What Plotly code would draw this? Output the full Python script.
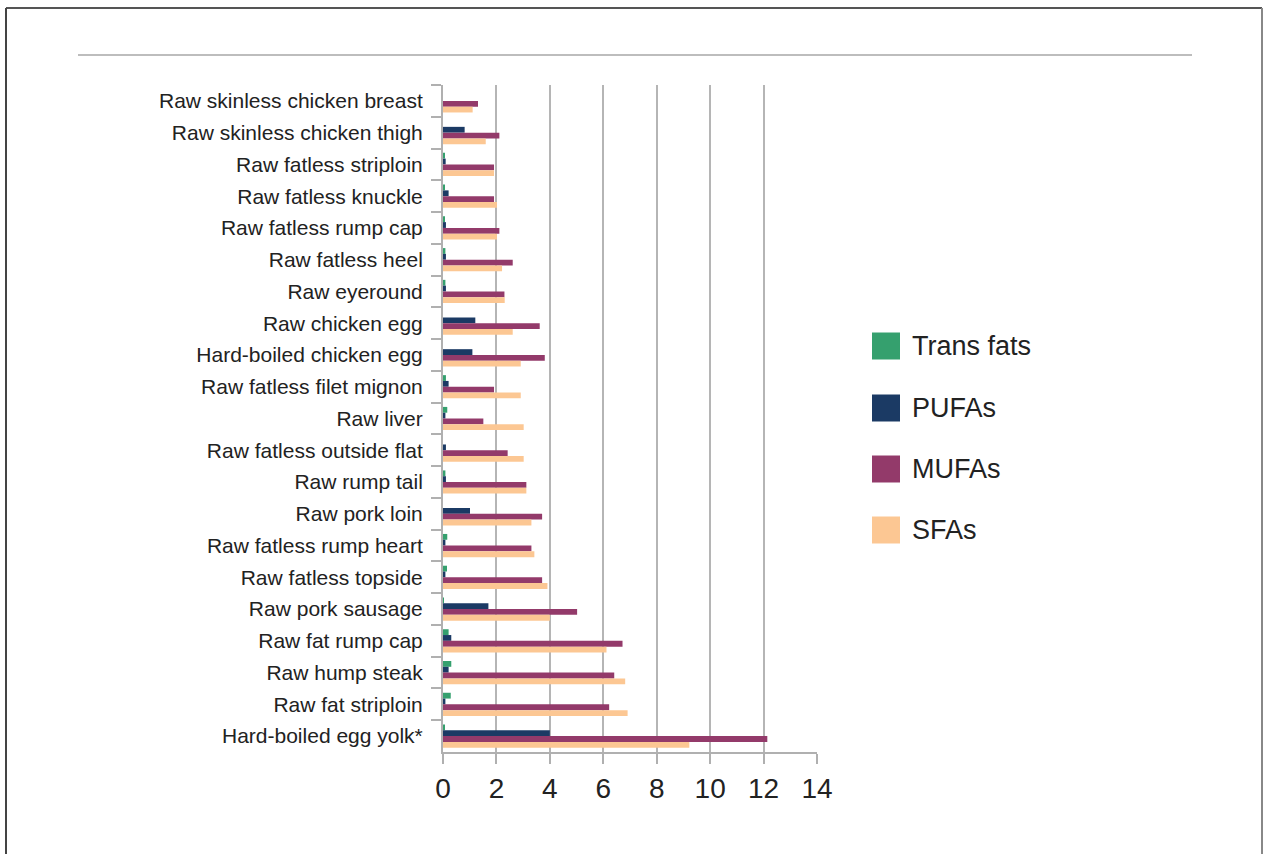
import plotly.graph_objects as go

# Fat composition per food item (g per 100 g), listed top to bottom
foods = [
    "Raw skinless chicken breast",
    "Raw skinless chicken thigh",
    "Raw fatless striploin",
    "Raw fatless knuckle",
    "Raw fatless rump cap",
    "Raw fatless heel",
    "Raw eyeround",
    "Raw chicken egg",
    "Hard-boiled chicken egg",
    "Raw fatless filet mignon",
    "Raw liver",
    "Raw fatless outside flat",
    "Raw rump tail",
    "Raw pork loin",
    "Raw fatless rump heart",
    "Raw fatless topside",
    "Raw pork sausage",
    "Raw fat rump cap",
    "Raw hump steak",
    "Raw fat striploin",
    "Hard-boiled egg yolk*",
]

trans_fats = [0.0, 0.0, 0.07, 0.07, 0.07, 0.09, 0.09, 0.0, 0.0, 0.11,
              0.16, 0.0, 0.09, 0.0, 0.16, 0.15, 0.03, 0.21, 0.31, 0.29, 0.07]
pufas = [0.0, 0.81, 0.10, 0.21, 0.11, 0.11, 0.11, 1.21, 1.10, 0.21,
         0.09, 0.11, 0.11, 1.01, 0.09, 0.09, 1.70, 0.31, 0.21, 0.09, 4.00]
mufas = [1.31, 2.11, 1.91, 1.91, 2.11, 2.61, 2.30, 3.62, 3.81, 1.91,
         1.51, 2.42, 3.12, 3.71, 3.31, 3.71, 5.02, 6.72, 6.41, 6.22, 12.14]
sfas = [1.11, 1.60, 1.91, 2.02, 2.02, 2.21, 2.31, 2.61, 2.91, 2.91,
        3.02, 3.02, 3.12, 3.31, 3.42, 3.91, 4.00, 6.12, 6.82, 6.91, 9.22]

series_names = ["Trans fats", "PUFAs", "MUFAs", "SFAs"]
series_values = [trans_fats, pufas, mufas, sfas]
series_colors = ["#35a06e", "#1b3a64", "#933a6a", "#fcc793"]

x_ticks = [0, 2, 4, 6, 8, 10, 12, 14]

W, H = 1267, 854
L, R, T, B = 443, 450, 85, 102
PW, PH = W - L - R, H - T - B


def px_x(x):
    return (x - L) / PW


def px_y(y):
    return 1 - (y - T) / PH


fig = go.Figure()
for name, vals, col in zip(series_names, series_values, series_colors):
    fig.add_trace(go.Bar(
        y=foods, x=vals, name=name, orientation="h",
        marker=dict(color=col, line=dict(width=0)),
        showlegend=False,
    ))

font_family = "Liberation Sans, Arial, sans-serif"

shapes = [
    # outer frame
    dict(type="line", xref="paper", yref="paper",
         x0=px_x(6), x1=px_x(1262), y0=px_y(8), y1=px_y(8),
         line=dict(color="#555555", width=2)),
    dict(type="line", xref="paper", yref="paper",
         x0=px_x(6), x1=px_x(6), y0=px_y(8), y1=px_y(860),
         line=dict(color="#444444", width=2)),
    dict(type="line", xref="paper", yref="paper",
         x0=px_x(1262), x1=px_x(1262), y0=px_y(8), y1=px_y(860),
         line=dict(color="#888888", width=2)),
    # rule under the header area
    dict(type="line", xref="paper", yref="paper",
         x0=px_x(78), x1=px_x(1192), y0=px_y(55), y1=px_y(55),
         line=dict(color="#bdbdbd", width=2)),
]

annotations = []
legend_y = [346, 408, 469, 530]
for name, col, ly in zip(series_names, series_colors, legend_y):
    shapes.append(dict(type="rect", xref="paper", yref="paper",
                       x0=px_x(872), x1=px_x(900),
                       y0=px_y(ly - 13.5), y1=px_y(ly + 13.5),
                       fillcolor=col, line=dict(width=0)))
    annotations.append(dict(xref="paper", yref="paper",
                            x=px_x(910), y=px_y(ly), text=name,
                            showarrow=False, xanchor="left", yanchor="middle",
                            font=dict(family=font_family, size=27, color="#222222")))

fig.update_layout(
    width=W, height=H,
    margin=dict(l=L, r=R, t=T, b=B),
    paper_bgcolor="white", plot_bgcolor="white",
    barmode="group", bargap=0.27, bargroupgap=0,
    showlegend=False,
    shapes=shapes, annotations=annotations,
    font=dict(family=font_family, color="#222222"),
)

fig.update_xaxes(
    range=[0, 14], tickvals=x_ticks, ticktext=[str(v) for v in x_ticks],
    showgrid=True, gridcolor="#b5b5b5", gridwidth=2,
    showline=True, linecolor="#b0b0b0", linewidth=2,
    ticks="outside", ticklen=10, tickcolor="#b0b0b0", tickwidth=2,
    tickfont=dict(size=28, color="#222222"),
    zeroline=False, fixedrange=True,
)
fig.update_yaxes(
    autorange="reversed", type="category",
    showline=True, linecolor="#b0b0b0", linewidth=2,
    ticks="outside", ticklen=10, tickcolor="#b0b0b0", tickwidth=2,
    tickson="boundaries", ticklabelstandoff=14,
    tickfont=dict(size=21, color="#222222"),
    showgrid=False, zeroline=False, fixedrange=True,
)

fig.write_html("out.html")
